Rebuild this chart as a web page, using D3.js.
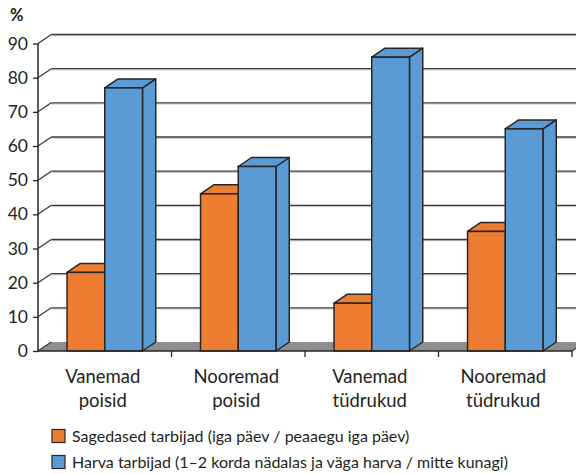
<!DOCTYPE html>
<html>
<head>
<meta charset="utf-8">
<script src="https://cdn.jsdelivr.net/npm/d3@7"></script>
<style>
  html, body { margin: 0; padding: 0; background: #fff; }
  svg { display: block; font-family: Lato, "Open Sans", sans-serif; }
</style>
</head>
<body>
<svg id="chart" width="576" height="474"></svg>
<script>
// Category labels (two lines each)
const categories = ["Vanemad poisid", "Nooremad poisid", "Vanemad tüdrukud", "Nooremad tüdrukud"];
const categoryLines = [["Vanemad", "poisid"], ["Nooremad", "poisid"], ["Vanemad", "tüdrukud"], ["Nooremad", "tüdrukud"]];
const seriesNames = [
  "Sagedased tarbijad (iga päev / peaaegu iga päev)",
  "Harva tarbijad (1–2 korda nädalas ja väga harva / mitte kunagi)"
];
const frequentUsers = [23, 46, 14, 35];
const rareUsers = [77, 54, 86, 65];
const yTicks = [0, 10, 20, 30, 40, 50, 60, 70, 80, 90];
const colors = ["#ED7D31", "#5B9BD5"];

const svg = d3.select("#chart");

// plot frame (front plane) and 3D depth offset
const plotLeft = 38, plotRight = 572, plotBottom = 351, plotTop = 43.5;
const dx = 13.3, dy = -9;
const stroke = "#262626";
const textColor = "#231F20";

const y = d3.scaleLinear().domain([0, 90]).range([plotBottom, plotTop]);
const x0 = d3.scaleBand().domain(categories).range([plotLeft, plotRight]).padding(0);
const x1 = d3.scaleBand().domain([0, 1]).range([0, x0.bandwidth()])
  .paddingInner(0).paddingOuter(0.77);

// floor
svg.append("path")
  .attr("d", `M${plotLeft},${plotBottom} L${plotRight},${plotBottom} L${plotRight + dx},${plotBottom + dy} L${plotLeft + dx},${plotBottom + dy} Z`)
  .attr("fill", "#8E8E8E");

// back-wall gridlines with diagonal connectors to the axis
yTicks.forEach(t => {
  const yy = y(t);
  if (t > 0) {
    svg.append("line")
      .attr("x1", plotLeft + dx).attr("y1", yy + dy + 1.2)
      .attr("x2", 576).attr("y2", yy + dy + 1.2)
      .attr("stroke", "#c4c4c4").attr("stroke-width", 1);
    svg.append("line")
      .attr("x1", plotLeft + dx).attr("y1", yy + dy)
      .attr("x2", 576).attr("y2", yy + dy)
      .attr("stroke", "#3a3a3a").attr("stroke-width", 1.3);
  }
  svg.append("line")
    .attr("x1", plotLeft).attr("y1", yy)
    .attr("x2", plotLeft + dx).attr("y2", yy + dy)
    .attr("stroke", "#3a3a3a").attr("stroke-width", 1.3);
});

// right end diagonal of the floor
svg.append("line")
  .attr("x1", plotRight).attr("y1", plotBottom)
  .attr("x2", plotRight + dx).attr("y2", plotBottom + dy)
  .attr("stroke", "#3a3a3a").attr("stroke-width", 1.3);

// bars as boxes: side, top and front faces
function box(g, xl, w, v, fill) {
  const yt = y(v), xr = xl + w;
  g.append("path")
    .attr("d", `M${xr},${plotBottom} L${xr + dx},${plotBottom + dy} L${xr + dx},${yt + dy} L${xr},${yt} Z`)
    .attr("fill", fill).attr("stroke", stroke).attr("stroke-width", 1.5).attr("stroke-linejoin", "round");
  g.append("path")
    .attr("d", `M${xl},${yt} L${xl + dx},${yt + dy} L${xr + dx},${yt + dy} L${xr},${yt} Z`)
    .attr("fill", fill).attr("stroke", stroke).attr("stroke-width", 1.5).attr("stroke-linejoin", "round");
  g.append("rect")
    .attr("x", xl).attr("y", yt).attr("width", w).attr("height", plotBottom - yt)
    .attr("fill", fill).attr("stroke", stroke).attr("stroke-width", 1.5);
}

const bars = svg.append("g");
categories.forEach((c, i) => {
  [frequentUsers[i], rareUsers[i]].forEach((v, s) => {
    box(bars, x0(c) + x1(s), x1.bandwidth(), v, colors[s]);
  });
});

// y axis
const yAxis = svg.append("g")
  .attr("transform", `translate(${plotLeft},0)`)
  .call(d3.axisLeft(y).tickValues(yTicks).tickSize(5).tickPadding(5));
yAxis.select(".domain").remove();
yAxis.selectAll(".tick line").attr("stroke", stroke).attr("stroke-width", 1.3);
yAxis.selectAll(".tick text").attr("font-size", 17.5).attr("fill", textColor)
  .attr("font-family", "Lato, 'Open Sans', sans-serif");
svg.append("line")
  .attr("x1", plotLeft).attr("y1", plotTop).attr("x2", plotLeft).attr("y2", plotBottom + 0.5)
  .attr("stroke", stroke).attr("stroke-width", 1.5);

// x axis line and category separators
svg.append("line")
  .attr("x1", plotLeft).attr("y1", plotBottom).attr("x2", plotRight).attr("y2", plotBottom)
  .attr("stroke", stroke).attr("stroke-width", 1.5);
categories.forEach(c => {
  const xb = x0(c) + x0.bandwidth();
  svg.append("line")
    .attr("x1", xb).attr("y1", plotBottom).attr("x2", xb).attr("y2", plotBottom + 6)
    .attr("stroke", stroke).attr("stroke-width", 1.3);
});

// category labels
categories.forEach((c, i) => {
  const cx = x0(c) + x0.bandwidth() / 2;
  categoryLines[i].forEach((line, k) => {
    svg.append("text")
      .attr("x", cx - 2).attr("y", 383 + k * 24)
      .attr("text-anchor", "middle")
      .attr("font-size", 18.5).attr("fill", textColor)
      .text(line);
  });
});

// unit label
svg.append("text")
  .attr("x", 10).attr("y", 21)
  .attr("font-size", 16.5).attr("font-weight", "bold").attr("fill", textColor)
  .text("%");

// legend
seriesNames.forEach((name, s) => {
  const ly = 436 + s * 26;
  svg.append("rect")
    .attr("x", 52).attr("y", ly - 6.5).attr("width", 13).attr("height", 13)
    .attr("fill", colors[s]).attr("stroke", stroke).attr("stroke-width", 1.2);
  svg.append("text")
    .attr("x", 72).attr("y", ly + 5.5)
    .attr("font-size", 16).attr("fill", textColor)
    .text(name);
});
</script>
</body>
</html>
